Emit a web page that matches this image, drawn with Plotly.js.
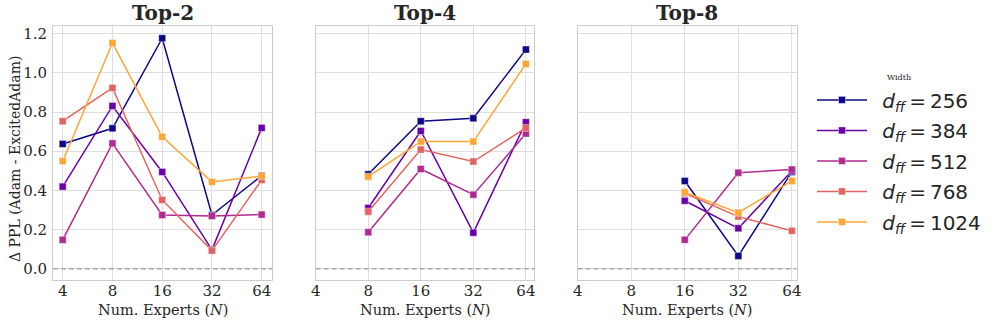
<!DOCTYPE html>
<html><head><meta charset="utf-8">
<script src="https://cdn.plot.ly/plotly-3.0.1.min.js"></script>
<style>body{margin:0;background:#fff}#chart{width:996px;height:324px}</style>
</head><body><div id="chart"></div>
<script>
const widths = [256, 384, 512, 768, 1024];
const colors = ['#0d0887', '#6a00a8', '#b12a90', '#e16462', '#fca636'];
const panelTitles = ['Top-2', 'Top-4', 'Top-8'];
const expertsTop2 = [4, 8, 16, 32, 64];
const expertsTop4 = [8, 16, 32, 64];
const expertsTop8 = [16, 32, 64];
const xTicks = [4, 8, 16, 32, 64];
const xTickLabels = ['4', '8', '16', '32', '64'];
const yTicks = [0, 0.2, 0.4, 0.6, 0.8, 1.0, 1.2];
const yTickLabels = ['0.0', '0.2', '0.4', '0.6', '0.8', '1.0', '1.2'];

const top2_d256  = [0.637, 0.717, 1.177, 0.274, 0.475];
const top2_d384  = [0.419, 0.831, 0.494, 0.096, 0.719];
const top2_d512  = [0.147, 0.640, 0.274, 0.269, 0.276];
const top2_d768  = [0.753, 0.923, 0.351, 0.092, 0.453];
const top2_d1024 = [0.549, 1.153, 0.673, 0.443, 0.473];

const top4_d256  = [0.482, 0.753, 0.768, 1.119];
const top4_d384  = [0.310, 0.703, 0.184, 0.748];
const top4_d512  = [0.186, 0.509, 0.378, 0.690];
const top4_d768  = [0.291, 0.608, 0.547, 0.719];
const top4_d1024 = [0.470, 0.649, 0.649, 1.046];

const top8_d256  = [0.448, 0.065, 0.494];
const top8_d384  = [0.347, 0.206, 0.499];
const top8_d512  = [0.147, 0.490, 0.506];
const top8_d768  = [0.385, 0.266, 0.193];
const top8_d1024 = [0.390, 0.286, 0.448];

const panels = [
  {x: expertsTop2, ys: [top2_d256, top2_d384, top2_d512, top2_d768, top2_d1024]},
  {x: expertsTop4, ys: [top4_d256, top4_d384, top4_d512, top4_d768, top4_d1024]},
  {x: expertsTop8, ys: [top8_d256, top8_d384, top8_d512, top8_d768, top8_d1024]}
];

const traces = [];
panels.forEach((p, pi) => {
  p.ys.forEach((ys, i) => {
    traces.push({
      x: p.x, y: ys,
      xaxis: pi === 0 ? 'x' : 'x' + (pi + 1),
      yaxis: pi === 0 ? 'y' : 'y' + (pi + 1),
      mode: 'lines+markers',
      name: '\u00a0\u2009<i>d</i><sub><i>ff</i></sub>\u2009=\u2009' + widths[i],
      legendgroup: 'w' + widths[i],
      showlegend: pi === 0,
      line: {color: colors[i], width: 1.5},
      marker: {symbol: 'square', size: 7, color: colors[i], line: {color: 'rgba(255,255,255,0.5)', width: 0.8}},
      hoverinfo: 'x+y+name'
    });
  });
});

const W = 996, H = 324;
const plotTop = 26, plotBottom = 280;
const xDomains = [[53, 272], [315.7, 534.3], [577.7, 796.7]];
const xRanges = [[1.805, 6.207], [2.0, 6.16], [2.0, 6.09]];
const tickFont = {family: 'DejaVu Serif', size: 15, color: '#262626'};

const layout = {
  width: W, height: H,
  margin: {l: 0, r: 0, t: 0, b: 0},
  paper_bgcolor: '#ffffff', plot_bgcolor: '#ffffff',
  font: {family: 'DejaVu Serif', color: '#262626'},
  showlegend: true,
  legend: {
    x: 812 / W, y: 1 - 70 / H, xanchor: 'left', yanchor: 'top',
    font: {family: 'DejaVu Sans', size: 20, color: '#262626'},
    title: {text: 'Width', side: 'top center', font: {family: 'DejaVu Serif', size: 8, color: '#262626'}},
    bgcolor: 'rgba(0,0,0,0)', borderwidth: 0, itemwidth: 50, tracegroupgap: 1.5
  },
  shapes: [],
  annotations: []
};

const yDomain = [1 - plotBottom / H, 1 - plotTop / H];
xDomains.forEach((d, i) => {
  const k = i === 0 ? '' : String(i + 1);
  layout['xaxis' + k] = {
    domain: [d[0] / W, d[1] / W], anchor: 'y' + k,
    type: 'log',
    range: [xRanges[i][0] * Math.LOG10E * Math.LN2, xRanges[i][1] * Math.LOG10E * Math.LN2],
    tickvals: xTicks, ticktext: xTickLabels,
    tickfont: tickFont, ticks: '', ticklabelstandoff: -3,
    showgrid: true, gridcolor: '#dedede', gridwidth: 1,
    showline: true, linecolor: '#cccccc', linewidth: 1, mirror: true,
    zeroline: false, fixedrange: true
  };
  layout['yaxis' + k] = {
    domain: yDomain, anchor: 'x' + k,
    range: [-0.058, 1.2395],
    tickvals: yTicks, ticktext: yTickLabels,
    tickfont: tickFont, ticks: '', ticklabelstandoff: 2,
    showticklabels: i === 0,
    showgrid: true, gridcolor: '#dedede', gridwidth: 1,
    showline: true, linecolor: '#cccccc', linewidth: 1, mirror: true,
    zeroline: false, fixedrange: true
  };
  if (i > 0) layout['yaxis' + k].matches = 'y';
  layout.shapes.push({
    type: 'line', xref: 'x' + k + ' domain', yref: 'y' + k,
    x0: 0, x1: 1, y0: 0, y1: 0,
    line: {color: '#a8a8a8', width: 1.5, dash: '5px,3px'}, layer: 'above'
  });
  const cx = (d[0] + d[1]) / 2 / W;
  layout.annotations.push({
    text: '<b>' + panelTitles[i] + '</b>', xref: 'paper', yref: 'paper',
    x: cx, y: 1 - 13.5 / H, xanchor: 'center', yanchor: 'middle', showarrow: false,
    font: {family: 'DejaVu Serif', size: 20, color: '#262626'}
  });
  layout.annotations.push({
    text: 'Num. Experts (<i>N</i>)', xref: 'paper', yref: 'paper',
    x: cx, y: 1 - 310 / H, xanchor: 'center', yanchor: 'middle', showarrow: false,
    font: {family: 'DejaVu Serif', size: 14.5, color: '#262626'}
  });
});
layout.annotations.push({
  text: 'Δ PPL (Adam - ExcitedAdam)', xref: 'paper', yref: 'paper',
  x: 15 / W, y: 1 - 159 / H, xanchor: 'center', yanchor: 'middle', textangle: -90, showarrow: false,
  font: {family: 'DejaVu Serif', size: 14, color: '#262626'}
});

Plotly.newPlot('chart', traces, layout, {displayModeBar: false, staticPlot: true});
</script>
</body></html>
